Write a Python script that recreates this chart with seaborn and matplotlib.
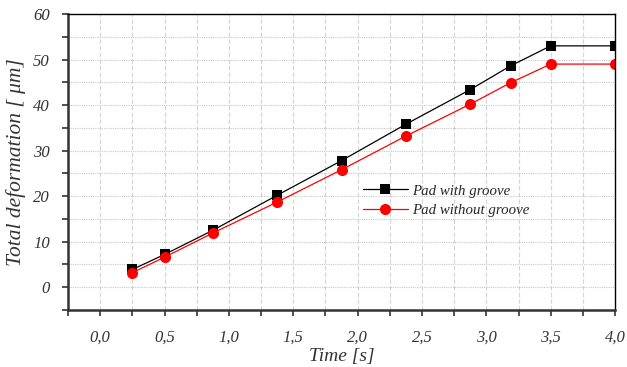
import matplotlib
matplotlib.use('Agg')
import matplotlib.pyplot as plt
from matplotlib.ticker import MultipleLocator, FuncFormatter
import seaborn as sns
import pandas as pd

# Data
time_s = [0.25, 0.5, 0.875, 1.375, 1.875, 2.375, 2.875, 3.1875, 3.5, 4.0]
with_groove = [3.9, 7.2, 12.5, 20.2, 27.8, 35.8, 43.4, 48.6, 53.0, 53.0]
without_groove = [3.2, 6.6, 11.9, 18.7, 25.8, 33.2, 40.2, 44.9, 49.0, 49.0]
series_names = ['Pad with groove', 'Pad without groove']

df = pd.concat([
    pd.DataFrame({'time': time_s, 'deformation': with_groove, 'series': series_names[0]}),
    pd.DataFrame({'time': time_s, 'deformation': without_groove, 'series': series_names[1]}),
])

sns.set_style('white')
plt.rcParams['font.family'] = ['Liberation Serif', 'DejaVu Serif']

fig = plt.figure(figsize=(6.27, 3.67), dpi=100)
ax = fig.add_axes([0.1085, 0.1553, 0.8725, 0.8066])

sns.lineplot(
    data=df, x='time', y='deformation', hue='series', style='series',
    palette={series_names[0]: 'black', series_names[1]: 'red'},
    markers={series_names[0]: 's', series_names[1]: 'o'},
    dashes=False, linewidth=0.9, markeredgewidth=0, ax=ax,
)
for line, ms in zip(ax.get_lines(), [7, 8]):
    line.set_markersize(ms)

ax.set_xlim(-0.25, 4.0)
ax.set_ylim(-5, 60)

ax.xaxis.set_major_locator(MultipleLocator(0.5))
ax.xaxis.set_minor_locator(MultipleLocator(0.25))
ax.yaxis.set_major_locator(MultipleLocator(10))
ax.yaxis.set_minor_locator(MultipleLocator(5))
ax.xaxis.set_major_formatter(FuncFormatter(lambda v, p: f'{v:.1f}'.replace('.', ',')))

# grid: dashed verticals, dotted horizontals
ax.grid(True, which='both', axis='x', color='#d4d4d4', linestyle=(0, (4, 2)), linewidth=0.8)
ax.grid(True, which='both', axis='y', color='#c8c8c8', linestyle=(0, (1, 1)), linewidth=0.8)
ax.set_axisbelow(True)

for side in ['left', 'bottom']:
    ax.spines[side].set_linewidth(1.8)
    ax.spines[side].set_color('#333333')
for side in ['top', 'right']:
    ax.spines[side].set_linewidth(1.0)
    ax.spines[side].set_color('black')

ax.tick_params(which='both', direction='out', length=4, width=1.2, color='#333333',
               bottom=True, left=True)
ax.tick_params(which='major', labelsize=12, labelcolor='#333333')
ax.tick_params(axis='x', which='major', pad=10)
ax.tick_params(axis='y', which='major', pad=9)
for lbl in ax.get_xticklabels() + ax.get_yticklabels():
    lbl.set_fontstyle('italic')

ax.set_xlabel('Time [s]', fontsize=14, fontstyle='italic', color='#333333', labelpad=2)
ax.set_ylabel('Total deformation [ μm]', fontsize=15.5, fontstyle='italic',
              color='#333333', labelpad=5)

leg = ax.legend(loc='upper left', bbox_to_anchor=(0.515, 0.47), frameon=False,
                fontsize=10.7, handlelength=3.0, handletextpad=0.3, labelspacing=0.4)
for t in leg.get_texts():
    t.set_fontstyle('italic')
for h, ms in zip(leg.legend_handles, [7, 8]):
    h.set_markersize(ms)

fig.savefig('out.png', dpi=100)
